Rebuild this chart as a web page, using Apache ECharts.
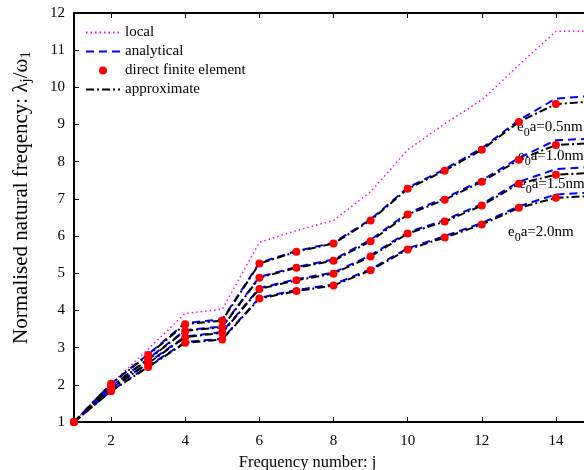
<!DOCTYPE html>
<html><head><meta charset="utf-8">
<script src="https://cdn.jsdelivr.net/npm/echarts@6/dist/echarts.min.js"></script>
<style>html,body{margin:0;padding:0;background:#fff}#c{width:584px;height:470px}</style>
</head><body><div id="c"></div>
<script>
const freqNumbers = [1,2,3,4,5,6,7,8,9,10,11,12,13,14,15];
const xTicks = [2,4,6,8,10,12,14];
const local = [1,2.02,2.96,3.92,4.03,5.83,6.15,6.42,7.19,8.32,9.02,9.66,10.6,11.51,11.51];
const analytical05 = [1,2.03,2.82,3.66,3.76,5.28,5.6,5.82,6.45,7.3,7.8,8.36,9.12,9.7,9.77];
const analytical10 = [1,1.96,2.7,3.47,3.57,4.9,5.17,5.37,5.9,6.62,7.02,7.5,8.1,8.58,8.62];
const analytical15 = [1,1.9,2.6,3.3,3.42,4.6,4.84,5.02,5.48,6.1,6.43,6.86,7.46,7.8,7.86];
const analytical20 = [1,1.84,2.5,3.15,3.24,4.34,4.55,4.7,5.11,5.67,6.0,6.35,6.8,7.12,7.17];
const fe05 = [1,2.03,2.8,3.63,3.73,5.26,5.58,5.8,6.42,7.27,7.76,8.32,9.07,9.55];
const fe10 = [1,1.95,2.68,3.45,3.55,4.88,5.15,5.34,5.86,6.58,6.98,7.46,8.05,8.45];
const fe15 = [1,1.9,2.58,3.28,3.4,4.58,4.81,4.99,5.45,6.07,6.39,6.82,7.41,7.65];
const fe20 = [1,1.83,2.48,3.13,3.22,4.32,4.52,4.67,5.08,5.64,5.96,6.31,6.76,7.03];
const approx05 = [1,2.03,2.8,3.63,3.73,5.26,5.58,5.8,6.42,7.27,7.76,8.32,9.07,9.55,9.62];
const approx10 = [1,1.95,2.68,3.45,3.55,4.88,5.15,5.34,5.86,6.58,6.98,7.46,8.05,8.45,8.5];
const approx15 = [1,1.9,2.58,3.28,3.4,4.58,4.81,4.99,5.45,6.07,6.39,6.82,7.41,7.65,7.7];
const approx20 = [1,1.83,2.48,3.13,3.22,4.32,4.52,4.67,5.08,5.64,5.96,6.31,6.76,7.03,7.08];
const curveLabels = ['0.5nm','1.0nm','1.5nm','2.0nm'];

const F = 'Liberation Serif';
const pairs = v => v.map((y,i)=>[freqNumbers[i], y]);
const series = [];
series.push({name:'local', type:'line', data:pairs(local), symbol:'none',
  lineStyle:{color:'#ff00ff', width:1.5, type:[1.5,3]}});
[analytical05,analytical10,analytical15,analytical20].forEach(a=>series.push({
  name:'analytical', type:'line', data:pairs(a), symbol:'none',
  lineStyle:{color:'#0000ff', width:2, type:[8,5]}}));
[fe05,fe10,fe15,fe20].forEach(a=>series.push({
  name:'direct finite element', type:'line', data:pairs(a), symbol:'circle', symbolSize:8, showSymbol:true,
  lineStyle:{width:0}, itemStyle:{color:'#ff0000'}}));
[approx05,approx10,approx15,approx20].forEach(a=>series.push({
  name:'approximate', type:'line', data:pairs(a), symbol:'none',
  lineStyle:{color:'#000000', width:2, type:[8,3,2,3]}}));

const richLbl = {m:{fontFamily:F,fontSize:15,color:'#000'}, s:{fontFamily:F,fontSize:12,color:'#000',padding:[10,0,0,0]}};
const labelPos = [[517,129],[518,158],[519,186],[508,234]];
const graphics = curveLabels.map((t,i)=>({type:'text', left:labelPos[i][0], top:labelPos[i][1]-9,
  style:{text:'{m|e}{s|0}{m|a='+t+'}', rich:richLbl}}));

const chart = echarts.init(document.getElementById('c'));
chart.setOption({
  animation:false,
  grid:{left:74, right:-9, top:13, bottom:48, containLabel:false, outerBoundsMode:'none'},
  legend:{left:85, top:25, orient:'vertical', padding:0, itemWidth:34, itemHeight:10, itemGap:4,
    textStyle:{fontFamily:F, fontSize:15, color:'#000'},
    data:[{name:'local', itemStyle:{opacity:0}},{name:'analytical', itemStyle:{opacity:0}},
      'direct finite element',{name:'approximate', itemStyle:{opacity:0}}]},
  xAxis:[{type:'value', min:1, max:15, position:'bottom',
    name:'Frequency number: j', nameLocation:'middle', nameGap:31,
    nameTextStyle:{fontFamily:F, fontSize:16.5, color:'#000', padding:[0,52,0,0]},
    axisLine:{lineStyle:{color:'#000', width:2}},
    axisTick:{inside:true, length:5, customValues:xTicks, lineStyle:{color:'#000'}},
    axisLabel:{customValues:xTicks, margin:12, fontFamily:F, fontSize:15, color:'#000'},
    splitLine:{show:false}},
   {type:'value', min:1, max:15, position:'top',
    axisLine:{lineStyle:{color:'#000', width:2}},
    axisTick:{inside:true, length:5, customValues:xTicks, lineStyle:{color:'#000'}},
    axisLabel:{show:false}, splitLine:{show:false}}],
  yAxis:{type:'value', min:1, max:12, interval:1,
    name:'Normalised natural freqency: {m|λ}{s|j}{m|/ω}{s|1}', nameLocation:'middle', nameGap:40,
    nameTextStyle:{fontFamily:F, fontSize:21, color:'#000', padding:[0,0,0,40],
      rich:{m:{fontFamily:F,fontSize:21,color:'#000'}, s:{fontFamily:F,fontSize:15,color:'#000',padding:[11,0,0,0]}}},
    axisLine:{lineStyle:{color:'#000', width:2}},
    axisTick:{inside:true, length:5, lineStyle:{color:'#000'}},
    axisLabel:{margin:9, fontFamily:F, fontSize:15, color:'#000'},
    splitLine:{show:false}},
  graphic:graphics,
  series:series
});
</script></body></html>
